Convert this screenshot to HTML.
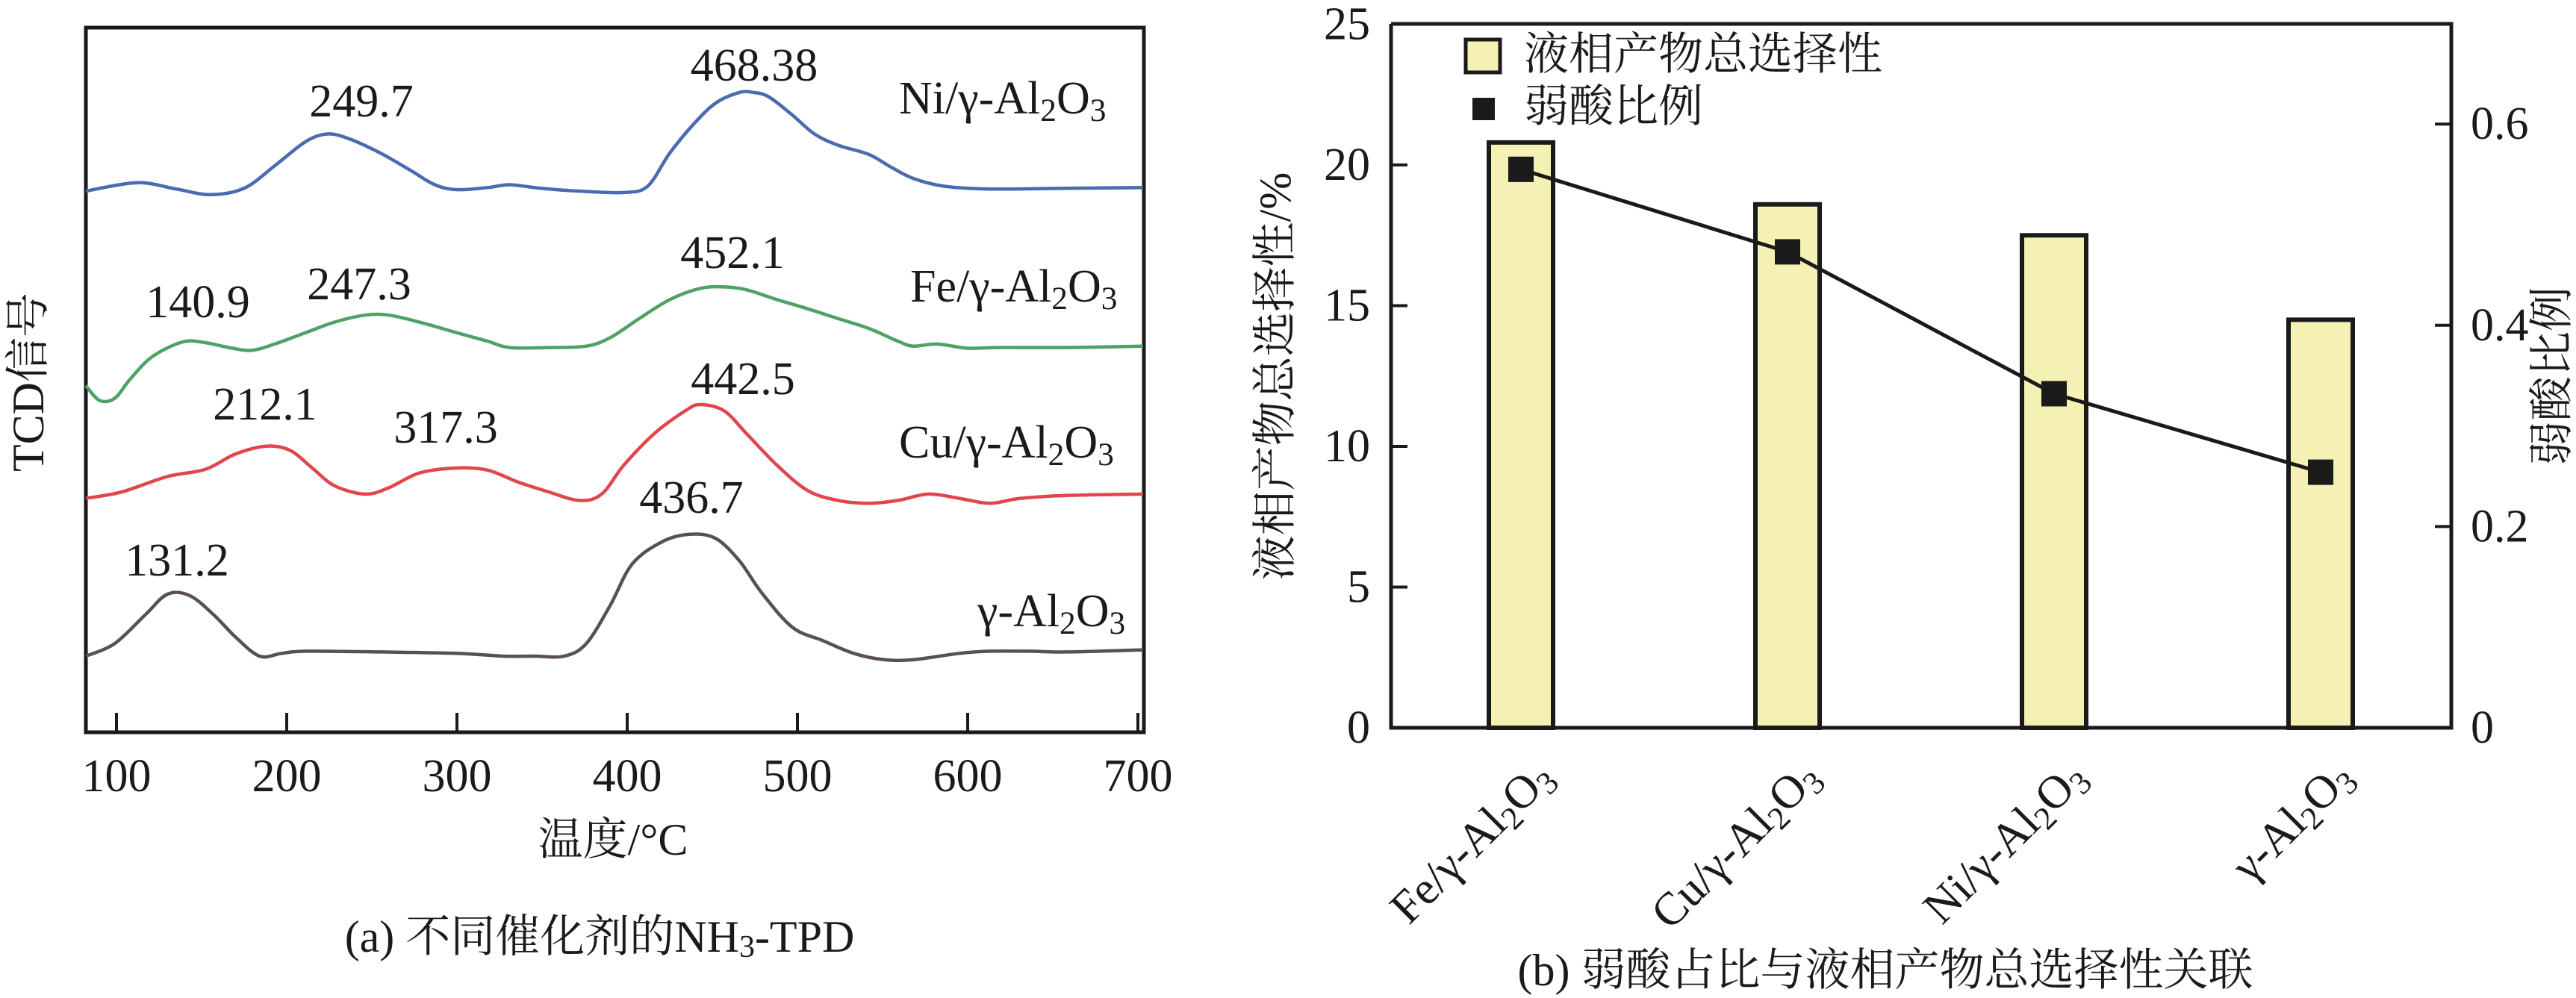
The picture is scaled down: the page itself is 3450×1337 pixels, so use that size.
<!DOCTYPE html>
<html><head><meta charset="utf-8"><style>
html,body{margin:0;padding:0;background:#fff;}
svg{display:block;}
svg text{font-family:"Liberation Serif","Noto Serif CJK SC",serif;}
</style></head><body>
<svg id="fig" width="3450" height="1337" viewBox="0 0 3450 1337" xmlns="http://www.w3.org/2000/svg">
<g id="left"></g>
<g id="right"></g>
</svg>
<script>
// ---------- Left chart data ----------
const tpdTicks = [100,200,300,400,500,600,700];
const niT = [82,112,135,155,175,193,211,224,237,255,273,287,300,318,331,349,372,398,412,425,439,452,466,474,483,497,510,524,542,555,568,586,613,658,703];
const niS = [76.8,78.0,77.1,76.3,77.2,80.4,83.8,84.9,84.2,82.2,79.7,77.7,77.0,77.3,77.7,77.2,76.8,76.6,77.5,82.2,86.3,89.3,90.8,90.8,90.2,87.6,84.9,83.3,82.0,80.2,78.6,77.5,77.1,77.2,77.3];
const feT = [82,90,99,108,121,139,152,166,179,193,211,228,246,260,278,300,318,331,354,376,390,407,425,443,457,470,488,506,524,542,559,568,582,600,618,658,703];
const feS = [49.2,47.1,47.4,50.1,53.3,55.4,55.3,54.6,54.2,55.1,56.7,58.2,59.2,59.2,58.2,56.7,55.5,54.6,54.6,54.8,56.0,58.7,61.4,63.0,63.2,62.8,61.4,60.1,58.7,57.3,55.5,54.8,55.1,54.5,54.6,54.6,54.8];
const cuT = [82,103,130,152,170,188,202,215,228,246,260,278,300,318,336,354,372,385,398,416,434,443,457,470,488,506,524,542,559,577,595,613,631,658,703];
const cuS = [33.2,34.1,36.3,37.3,39.5,40.6,40.0,37.5,35.0,33.8,34.7,36.8,37.5,37.2,35.5,34.1,32.9,33.8,37.9,42.4,45.6,46.5,45.6,42.4,37.9,34.3,32.9,32.5,32.9,33.8,33.2,32.5,33.2,33.6,33.8];
const alT = [82,99,117,130,143,157,170,184,197,211,255,300,327,345,363,376,390,403,421,437,452,466,479,497,515,533,551,568,595,613,636,658,703];
const alS = [10.8,12.6,16.7,19.6,19.4,16.7,13.5,10.8,11.2,11.5,11.4,11.2,10.8,10.8,10.8,12.6,18.0,23.9,27.1,28.1,27.5,24.3,19.8,14.9,13.0,11.2,10.3,10.3,11.2,11.5,11.5,11.4,11.7];

// ---------- Right chart data ----------
const catNames = ["Fe/γ-Al", "Cu/γ-Al", "Ni/γ-Al", "γ-Al"];
const selectivity = [20.8, 18.6, 17.5, 14.5];
const weakAcid = [0.555, 0.473, 0.332, 0.254];
const leftTicks = [0,5,10,15,20,25];
const rightTicks = [0,0.2,0.4,0.6];

const NS="http://www.w3.org/2000/svg";
const FF='"Liberation Serif","Noto Serif CJK SC",serif';
function mk(tag, attrs, parent){const e=document.createElementNS(NS,tag);for(const k in attrs)e.setAttribute(k,attrs[k]);parent.appendChild(e);return e;}
function txt(parent, x, y, str, size, anchor){const t=mk('text',{x:x,y:y,'font-size':size,'font-family':FF,'text-anchor':anchor||'middle','dominant-baseline':'central',fill:'#1a1a1a'},parent);t.textContent=str;return t;}
function chem(parent,x,y,pre,size,anchor){
  const t=mk('text',{x:x,y:y,'font-size':size,'font-family':FF,'text-anchor':anchor||'start','dominant-baseline':'central',fill:'#1a1a1a'},parent);
  t.appendChild(document.createTextNode(pre));
  const s1=mk('tspan',{dy:16,'font-size':size*0.7},t);s1.textContent='2';
  const s2=mk('tspan',{dy:-16},t);s2.textContent='O';
  const s3=mk('tspan',{dy:16,'font-size':size*0.7},t);s3.textContent='3';
  return t;
}
function smooth(pts){let d='M'+pts[0][0]+','+pts[0][1];
  for(let i=0;i<pts.length-1;i++){const p0=pts[i-1]||pts[i],p1=pts[i],p2=pts[i+1],p3=pts[i+2]||p2;
    const c1x=p1[0]+(p2[0]-p0[0])/6,c1y=p1[1]+(p2[1]-p0[1])/6,c2x=p2[0]-(p3[0]-p1[0])/6,c2y=p2[1]-(p3[1]-p1[1])/6;
    d+=` C${c1x.toFixed(1)},${c1y.toFixed(1)} ${c2x.toFixed(1)},${c2y.toFixed(1)} ${p2[0].toFixed(1)},${p2[1].toFixed(1)}`;}
  return d;}

// ----- Left chart -----
const L=document.getElementById('left');
const lx=t=>156+(t-100)*2.28;
const ly=s=>981-s*9.44;
const fr=mk('rect',{x:115,y:37,width:1417,height:944,fill:'none',stroke:'#1a1a1a','stroke-width':5},L);

tpdTicks.forEach(v=>{
  const tk=mk('line',{x1:lx(v),x2:lx(v),y1:981,y2:955,stroke:'#1a1a1a','stroke-width':4},L);
  
  const lb=txt(L,lx(v),1040,String(v),62);
  
});
const series=[[niT,niS,'#4a6bb0','ni-curve'],[feT,feS,'#4ea266','fe-curve'],[cuT,cuS,'#e0464b','cu-curve'],[alT,alS,'#5b5050','al2o3-curve']];
series.forEach(s=>{
  const pts=s[0].map((t,i)=>[lx(t),ly(s[1][i])]);
  const p=mk('path',{d:smooth(pts),fill:'none',stroke:s[2],'stroke-width':4.5,'stroke-linejoin':'round'},L);
  
});
const peaks=[["249.7",484,136],["468.38",1010,88],["140.9",265,405],["247.3",481,381],["452.1",981,339],["212.1",355,542],["317.3",597,573],["442.5",995,508],["436.7",926,667],["131.2",237,751]];
peaks.forEach(p=>{const t=txt(L,p[1],p[2],p[0],62);});
const sl=[["Ni/γ-Al",1204,132],["Fe/γ-Al",1219,384],["Cu/γ-Al",1204,593],["γ-Al",1309,819]];
sl.forEach(s=>{const t=chem(L,s[1],s[2],s[0],62);});
const xt=txt(L,821,1125,"温度/°C",60);
const yt=txt(L,0,0,"TCD信号",60);yt.setAttribute('transform','translate(38,512) rotate(-90)');

const capA=txt(L,803,1255,"",60);

capA.appendChild(document.createTextNode('(a) 不同催化剂的NH'));
{const s=mk('tspan',{dy:14,'font-size':42},capA);s.textContent='3';const r=mk('tspan',{dy:-14},capA);r.textContent='-TPD';}

// ----- Right chart -----
const R=document.getElementById('right');
const X0=1863,X1=3283,Y0=975,Y1=32;
const yl=v=>Y0-v*37.7;
const yr=v=>Y0-v*1348;
const cx=i=>2037+i*357;
const fr2=mk('path',{d:`M${X0},${Y1} L${X0},${Y0} L${X1},${Y0} L${X1},${Y1} L${X0},${Y1}`,fill:'none',stroke:'#1a1a1a','stroke-width':5},R);

leftTicks.forEach(v=>{
  if(v>0&&v<25){const tk=mk('line',{x1:X0,x2:X0+22,y1:yl(v),y2:yl(v),stroke:'#1a1a1a','stroke-width':4},R);
  }
  const lb=txt(R,X0-28,yl(v),String(v),62,'end');
  
});
rightTicks.forEach(v=>{
  if(v>0){const tk=mk('line',{x1:X1,x2:X1-22,y1:yr(v),y2:yr(v),stroke:'#1a1a1a','stroke-width':4},R);
  }
  const lb=txt(R,X1+26,yr(v),v===0?"0":v.toFixed(1),62,'start');
  
});
selectivity.forEach((v,i)=>{
  const b=mk('rect',{x:cx(i)-43,y:yl(v),width:86,height:Y0-yl(v),fill:'#f5f0b3',stroke:'#1a1a1a','stroke-width':6},R);
  
});
const lpts=weakAcid.map((v,i)=>cx(i)+','+yr(v)).join(' ');
const pl=mk('polyline',{points:lpts,fill:'none',stroke:'#1a1a1a','stroke-width':5},R);

weakAcid.forEach((v,i)=>{
  const m=mk('rect',{x:cx(i)-17,y:yr(v)-17,width:34,height:34,fill:'#1a1a1a'},R);
  
});
catNames.forEach((n,i)=>{
  const g=mk('g',{transform:`translate(${cx(i)+32},${1030}) rotate(-45)`},R);
  const t=chem(g,0,0,n,62,'end');
  
});
const lb1=mk('rect',{x:1963,y:53,width:46,height:44,fill:'#f5f0b3',stroke:'#1a1a1a','stroke-width':5},R);

const lt1=txt(R,2041,73,"液相产物总选择性",60,'start');
const lb2=mk('rect',{x:1972,y:131,width:30,height:30,fill:'#1a1a1a'},R);

const lt2=txt(R,2041,143,"弱酸比例",60,'start');
const ylt=txt(R,0,0,"液相产物总选择性/%",60);ylt.setAttribute('transform','translate(1708,504) rotate(-90)');

const yrt=txt(R,0,0,"弱酸比例",60);yrt.setAttribute('transform','translate(3418,504) rotate(-90)');

const capB=txt(R,2525,1300,"(b) 弱酸占比与液相产物总选择性关联",60);

</script>
</body></html>
